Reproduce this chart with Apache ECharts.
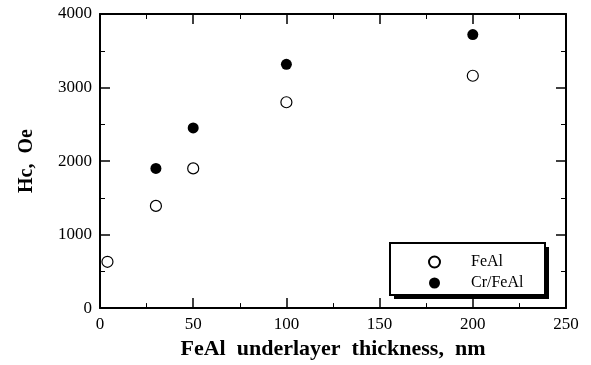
<!DOCTYPE html>
<html>
<head>
<meta charset="utf-8">
<script src="https://cdn.jsdelivr.net/npm/echarts@6/dist/echarts.min.js"></script>
<style>
html, body { margin: 0; padding: 0; background: #fff; }
#mainCanvas { width: 591px; height: 365px; }
</style>
</head>
<body>
<div id="mainCanvas"></div>
<script>
var myChart = echarts.init(document.getElementById("mainCanvas"));

// FeAl underlayer thickness (nm) vs Hc (Oe)
var feAlX = [4, 30, 50, 100, 200];
var feAlY = [630, 1390, 1900, 2800, 3160];
var crFeAlX = [30, 50, 100, 200];
var crFeAlY = [1900, 2450, 3315, 3720];

function pairs(xs, ys) {
    var out = [];
    for (var i = 0; i < xs.length; i++) {
        out.push([xs[i], ys[i]]);
    }
    return out;
}

var serif = "Liberation Serif";

var axisBase = {
    axisLine: { show: true, onZero: false, lineStyle: { color: '#000', width: 2 } },
    splitLine: { show: false },
    axisTick: { show: true, inside: true, length: 10, lineStyle: { color: '#000', width: 1.5 } },
    minorTick: { show: true, splitNumber: 2, length: 5, lineStyle: { color: '#000', width: 1 } }
};

var option = {
    animation: false,
    backgroundColor: '#fff',
    grid: { left: 100, right: 25, top: 14, bottom: 50 },
    // legend frame with its drop shadow
    graphic: [
        { type: 'rect', z: 90, shape: { x: 394, y: 247, width: 155, height: 52 }, style: { fill: '#000' } },
        { type: 'rect', z: 91, shape: { x: 390, y: 243, width: 155, height: 52 }, style: { fill: '#fff', stroke: '#000', lineWidth: 2 } }
    ],
    legend: {
        orient: 'vertical',
        left: 390,
        top: 243,
        z: 100,
        padding: [11, 10, 11, 38],
        itemWidth: 11,
        itemHeight: 11,
        itemGap: 5,
        textStyle: { fontFamily: serif, fontSize: 16, color: '#000', padding: [0, 0, 0, 26] },
        data: ['FeAl', 'Cr/FeAl']
    },
    xAxis: [
        Object.assign({}, axisBase, {
            type: 'value', min: 0, max: 250, interval: 50,
            position: 'bottom',
            name: 'FeAl  underlayer  thickness,  nm',
            nameLocation: 'middle',
            nameGap: 23,
            nameTextStyle: { fontFamily: serif, fontWeight: 'bold', fontSize: 22, color: '#000', verticalAlign: 'top' },
            axisLabel: { fontFamily: serif, fontSize: 17, color: '#000', margin: 8 }
        }),
        Object.assign({}, axisBase, {
            type: 'value', min: 0, max: 250, interval: 50,
            position: 'top',
            axisLabel: { show: false }
        })
    ],
    yAxis: [
        Object.assign({}, axisBase, {
            type: 'value', min: 0, max: 4000, interval: 1000,
            position: 'left',
            name: 'Hc,  Oe',
            nameLocation: 'middle',
            nameGap: 63,
            nameTextStyle: { fontFamily: serif, fontWeight: 'bold', fontSize: 20, color: '#000' },
            axisLabel: { fontFamily: serif, fontSize: 17, color: '#000', margin: 8, formatter: function (v) { return String(v); } }
        }),
        Object.assign({}, axisBase, {
            type: 'value', min: 0, max: 4000, interval: 1000,
            position: 'right',
            axisLabel: { show: false }
        })
    ],
    series: [
        {
            name: 'FeAl',
            type: 'scatter',
            symbol: 'circle',
            symbolSize: 11,
            itemStyle: { color: '#fff', borderColor: '#000', borderWidth: 1.2, opacity: 1 },
            data: pairs(feAlX, feAlY)
        },
        {
            name: 'Cr/FeAl',
            type: 'scatter',
            symbol: 'circle',
            symbolSize: 11,
            itemStyle: { color: '#000', opacity: 1 },
            data: pairs(crFeAlX, crFeAlY)
        }
    ]
};

myChart.setOption(option);
</script>
</body>
</html>
